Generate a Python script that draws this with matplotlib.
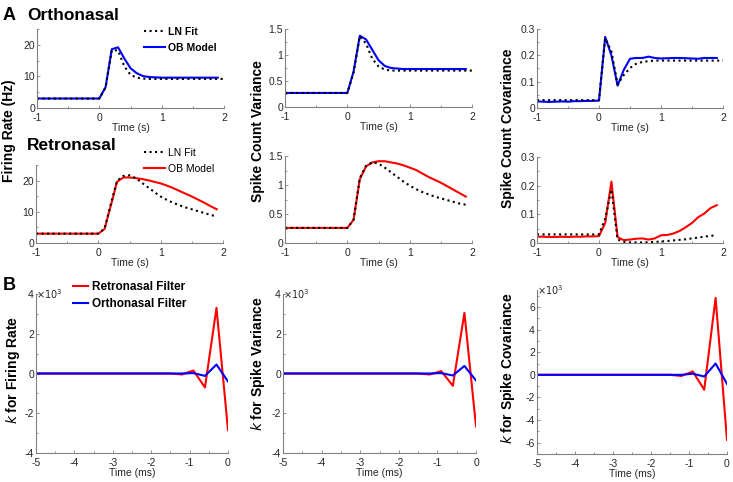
import numpy as np
import matplotlib
matplotlib.use('Agg')
from matplotlib import pyplot as plt
from matplotlib.ticker import MultipleLocator, FuncFormatter

plt.rcParams['font.family'] = ['Liberation Sans', 'DejaVu Sans']

# time axes (s)
t_ob = [-1.0, -0.9, -0.8, -0.7, -0.6, -0.5, -0.4, -0.3, -0.2, -0.1, 0.0,
        0.1, 0.2, 0.3, 0.4, 0.5, 0.6, 0.7, 0.8, 0.9, 1.0,
        1.1, 1.2, 1.3, 1.4, 1.5, 1.6, 1.7, 1.8, 1.9]
t_ln_ortho = t_ob + [2.0]

# orthonasal
ortho_rate_ob = [3.0, 3.0, 3.0, 3.0, 3.0, 3.0, 3.0, 3.0, 3.0, 3.0, 3.0,
                 6.6, 18.6, 19.2, 15.7, 12.6, 11.0, 10.1, 9.8, 9.7, 9.6,
                 9.6, 9.6, 9.6, 9.6, 9.6, 9.6, 9.6, 9.6, 9.6]
ortho_rate_ln = [3.0, 3.0, 3.0, 3.0, 3.0, 3.0, 3.0, 3.0, 3.0, 3.0, 3.0,
                 6.5, 18.3, 18.2, 13.2, 10.5, 9.6, 9.3, 9.2, 9.2, 9.2,
                 9.2, 9.2, 9.2, 9.2, 9.2, 9.2, 9.2, 9.2, 9.2, 9.2]
ortho_var_ob = [0.27, 0.27, 0.27, 0.27, 0.27, 0.27, 0.27, 0.27, 0.27, 0.27, 0.27,
                0.68, 1.37, 1.30, 1.10, 0.90, 0.79, 0.75, 0.74, 0.73, 0.73,
                0.73, 0.73, 0.73, 0.73, 0.73, 0.73, 0.73, 0.73, 0.73]
ortho_var_ln = [0.27, 0.27, 0.27, 0.27, 0.27, 0.27, 0.27, 0.27, 0.27, 0.27, 0.27,
                0.66, 1.36, 1.22, 0.93, 0.78, 0.72, 0.70, 0.70, 0.70, 0.70,
                0.70, 0.70, 0.70, 0.70, 0.70, 0.70, 0.70, 0.70, 0.70, 0.70]
ortho_cov_ob = [0.025, 0.024, 0.023, 0.024, 0.025, 0.024, 0.026, 0.026, 0.027, 0.027, 0.028,
                0.270, 0.200, 0.085, 0.145, 0.187, 0.190, 0.190, 0.195, 0.190, 0.188,
                0.189, 0.190, 0.190, 0.189, 0.188, 0.187, 0.190, 0.190, 0.190]
ortho_cov_ln = [0.03, 0.03, 0.03, 0.03, 0.03, 0.03, 0.03, 0.03, 0.03, 0.03, 0.03,
                0.265, 0.215, 0.090, 0.125, 0.152, 0.168, 0.175, 0.178, 0.180, 0.180,
                0.180, 0.180, 0.180, 0.180, 0.180, 0.180, 0.180, 0.180, 0.180, 0.180]

# retronasal
retro_rate_ob = [3.0, 3.0, 3.0, 3.0, 3.0, 3.0, 3.0, 3.0, 3.0, 3.0, 3.0,
                 4.5, 12.0, 19.6, 21.0, 21.0, 20.8, 20.5, 20.1, 19.6, 19.1,
                 18.4, 17.6, 16.7, 15.8, 14.9, 13.9, 12.9, 11.8, 10.8]
retro_rate_ln = [3.0, 3.0, 3.0, 3.0, 3.0, 3.0, 3.0, 3.0, 3.0, 3.0, 3.0,
                 4.6, 12.5, 19.9, 21.5, 21.7, 20.8, 19.3, 17.8, 16.3, 14.9,
                 13.8, 12.9, 12.1, 11.4, 10.8, 10.2, 9.6, 9.0, 8.5]
retro_var_ob = [0.26, 0.26, 0.26, 0.26, 0.26, 0.26, 0.26, 0.26, 0.26, 0.26, 0.26,
                0.40, 1.10, 1.32, 1.39, 1.41, 1.41, 1.39, 1.37, 1.34, 1.30,
                1.26, 1.20, 1.14, 1.09, 1.04, 0.98, 0.92, 0.86, 0.80]
retro_var_ln = [0.26, 0.26, 0.26, 0.26, 0.26, 0.26, 0.26, 0.26, 0.26, 0.26, 0.26,
                0.40, 1.12, 1.33, 1.39, 1.37, 1.30, 1.22, 1.14, 1.06, 0.99,
                0.93, 0.88, 0.84, 0.80, 0.77, 0.74, 0.71, 0.68, 0.66]
retro_cov_ob = [0.022, 0.022, 0.021, 0.021, 0.022, 0.021, 0.022, 0.022, 0.023, 0.023, 0.024,
                0.070, 0.214, 0.020, 0.010, 0.012, 0.015, 0.016, 0.012, 0.016, 0.027,
                0.028, 0.033, 0.042, 0.055, 0.070, 0.090, 0.103, 0.122, 0.132]
retro_cov_ln = [0.03, 0.03, 0.03, 0.03, 0.03, 0.03, 0.03, 0.03, 0.03, 0.03, 0.03,
                0.085, 0.187, 0.012, 0.004, 0.002, 0.002, 0.002, 0.003, 0.004, 0.005,
                0.007, 0.009, 0.011, 0.013, 0.016, 0.019, 0.022, 0.025, 0.027]

# filters (values in units of 10^3), time in ms
t_filt = [-5.0, -1.5, -1.2, -0.9, -0.6, -0.3, 0.0]
k_rate_retro = [0, 0, -0.05, 0.15, -0.70, 3.30, -2.85]
k_rate_ortho = [0, 0, 0, 0.02, -0.12, 0.45, -0.40]
k_var_retro = [0, 0, -0.05, 0.12, -0.62, 3.05, -2.65]
k_var_ortho = [0, 0, 0, 0.02, -0.10, 0.38, -0.35]
k_cov_retro = [0, 0, -0.10, 0.30, -1.32, 6.80, -5.75]
k_cov_ortho = [0, 0, 0, 0.10, -0.15, 1.00, -0.80]

W, H = 733, 482
BLUE = '#0000ff'
RED = '#ff0000'
GRAY = '#808080'
TXT = '#262626'

fig = plt.figure(figsize=(W / 100, H / 100), dpi=100)


def make_axes(l, t, r, b):
    return fig.add_axes([l / W, 1 - b / H, (r - l) / W, (b - t) / H])


def style(ax, xlim, ylim, xmaj, ymaj, xlabel):
    ax.set_xlim(xlim)
    ax.set_ylim(ylim)
    ax.xaxis.set_major_locator(MultipleLocator(xmaj))
    ax.xaxis.set_minor_locator(MultipleLocator(xmaj / 2))
    ax.yaxis.set_major_locator(MultipleLocator(ymaj))
    ax.yaxis.set_minor_locator(MultipleLocator(ymaj / 2))
    fmt = FuncFormatter(lambda v, p: '%g' % round(v, 6))
    ax.xaxis.set_major_formatter(fmt)
    ax.yaxis.set_major_formatter(fmt)
    for s in ['top', 'right']:
        ax.spines[s].set_visible(False)
    for s in ['left', 'bottom']:
        ax.spines[s].set_color(GRAY)
        ax.spines[s].set_linewidth(0.8)
    ax.tick_params(which='both', direction='in', colors=GRAY, labelcolor=TXT,
                   labelsize=7.5, width=0.6)
    ax.tick_params(axis='x', pad=3.5)
    ax.tick_params(axis='y', pad=1.5)
    ax.tick_params(which='major', length=2.5)
    ax.tick_params(which='minor', length=1.5)
    ax.set_xlabel(xlabel, fontsize=7.5, color=TXT, labelpad=0)


lw = 1.5

# top row - orthonasal
ax1 = make_axes(37, 29, 224, 108)
l_ob, = ax1.plot(t_ob, ortho_rate_ob, color=BLUE, lw=lw)
l_ln, = ax1.plot(t_ln_ortho, ortho_rate_ln, color='black', lw=lw, ls=':')
style(ax1, (-1, 2), (0, 25), 1, 10, 'Time (s)')
ax1.legend([l_ln, l_ob], ['LN Fit', 'OB Model'], loc='upper left',
           bbox_to_anchor=(144 / W, 1 - 27 / H), bbox_transform=fig.transFigure,
           frameon=False, prop={'weight': 'bold', 'size': 7.5}, handlelength=2.0,
           handletextpad=0.3, labelspacing=0.55, borderpad=0, borderaxespad=0)

ax2 = make_axes(285, 29, 472, 107)
ax2.plot(t_ob, ortho_var_ob, color=BLUE, lw=lw)
ax2.plot(t_ln_ortho, ortho_var_ln, color='black', lw=lw, ls=':')
style(ax2, (-1, 2), (0, 1.5), 1, 0.5, 'Time (s)')

ax3 = make_axes(537, 29, 723, 108)
ax3.plot(t_ob, ortho_cov_ob, color=BLUE, lw=lw)
ax3.plot(t_ln_ortho, ortho_cov_ln, color='black', lw=lw, ls=':')
style(ax3, (-1, 2), (0, 0.3), 1, 0.1, 'Time (s)')

# middle row - retronasal
ax4 = make_axes(36, 165, 223, 243)
r_ob, = ax4.plot(t_ob, retro_rate_ob, color=RED, lw=lw)
r_ln, = ax4.plot(t_ob, retro_rate_ln, color='black', lw=lw, ls=':')
style(ax4, (-1, 2), (0, 25), 1, 10, 'Time (s)')
ax4.legend([r_ln, r_ob], ['LN Fit', 'OB Model'], loc='upper left',
           bbox_to_anchor=(144 / W, 1 - 148 / H), bbox_transform=fig.transFigure,
           frameon=False, prop={'size': 7.5}, handlelength=2.0,
           handletextpad=0.3, labelspacing=0.55, borderpad=0, borderaxespad=0)

ax5 = make_axes(285, 156, 472, 243)
ax5.plot(t_ob, retro_var_ob, color=RED, lw=lw)
ax5.plot(t_ob, retro_var_ln, color='black', lw=lw, ls=':')
style(ax5, (-1, 2), (0, 1.5), 1, 0.5, 'Time (s)')

ax6 = make_axes(537, 157, 723, 243)
ax6.plot(t_ob, retro_cov_ob, color=RED, lw=lw)
ax6.plot(t_ob, retro_cov_ln, color='black', lw=lw, ls=':')
style(ax6, (-1, 2), (0, 0.3), 1, 0.1, 'Time (s)')

# bottom row - filters
ax7 = make_axes(36, 294, 228, 453)
f_r, = ax7.plot(t_filt, k_rate_retro, color=RED, lw=lw)
f_o, = ax7.plot(t_filt, k_rate_ortho, color=BLUE, lw=lw)
style(ax7, (-5, 0), (-4, 4), 1, 2, 'Time (ms)')
ax7.legend([f_r, f_o], ['Retronasal Filter', 'Orthonasal Filter'], loc='upper left',
           bbox_to_anchor=(73 / W, 1 - 281 / H), bbox_transform=fig.transFigure,
           frameon=False, prop={'weight': 'bold', 'size': 8.5}, handlelength=1.3,
           handletextpad=0.35, labelspacing=0.4, borderpad=0, borderaxespad=0)

ax8 = make_axes(283, 294, 476, 453)
ax8.plot(t_filt, k_var_retro, color=RED, lw=lw)
ax8.plot(t_filt, k_var_ortho, color=BLUE, lw=lw)
style(ax8, (-5, 0), (-4, 4), 1, 2, 'Time (ms)')

ax9 = make_axes(537, 290, 727, 454)
ax9.plot(t_filt, k_cov_retro, color=RED, lw=lw)
ax9.plot(t_filt, k_cov_ortho, color=BLUE, lw=lw)
style(ax9, (-5, 0), (-7, 7.5), 1, 2, 'Time (ms)')

for ax in [ax7, ax8, ax9]:
    ax.text(0.0, 1.0, r'$\times10^3$', transform=ax.transAxes, ha='left', va='center',
            fontsize=7, color=TXT)


def ftext(x, y, s, **kw):
    fig.text(x / W, 1 - y / H, s, **kw)


ftext(3, 15, 'A', fontsize=13, fontweight='bold', va='center', ha='left')
ftext(27, 15, 'Orthonasal', fontsize=12.5, fontweight='bold', va='center', ha='left')
ftext(27, 145, 'Retronasal', fontsize=12.5, fontweight='bold', va='center', ha='left')
ftext(3, 285, 'B', fontsize=13, fontweight='bold', va='center', ha='left')

ylab = dict(fontsize=10, fontweight='bold', rotation=90, va='center', ha='center')
ftext(9, 131, 'Firing Rate (Hz)', **ylab)
ftext(258, 131, 'Spike Count Variance', **ylab)
ftext(508, 128, 'Spike Count Covariance', **ylab)
ftext(13, 370, r'$\mathit{k}$ for Firing Rate', **ylab)
ftext(258, 364, r'$\mathit{k}$ for Spike Variance', **ylab)
ftext(508, 368, r'$\mathit{k}$ for Spike Covariance', **ylab)

fig.savefig('out.png', dpi=100)
